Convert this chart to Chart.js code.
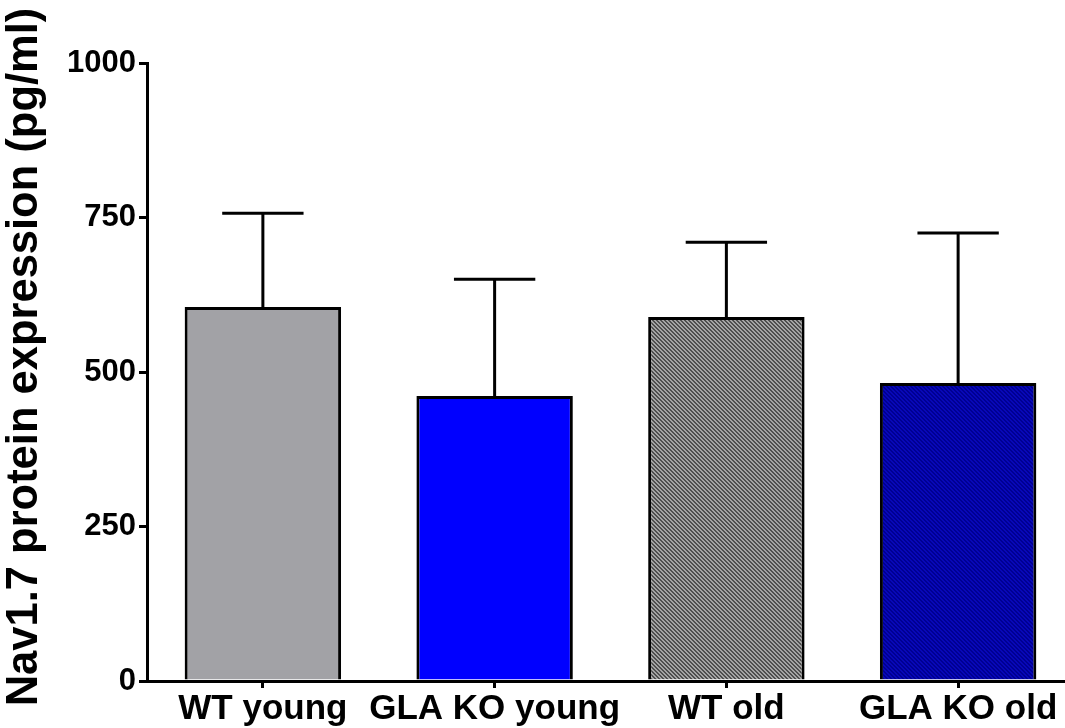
<!DOCTYPE html>
<html>
<head>
<meta charset="utf-8">
<script src="https://cdn.jsdelivr.net/npm/chart.js@4"></script>
<style>
  html, body { margin: 0; padding: 0; overflow: hidden; background: #fff; }
  #wrap { width: 1080px; height: 728px; }
</style>
</head>
<body>
<div id="wrap"><canvas id="chart"></canvas></div>
<script>
const categories = ['WT young', 'GLA KO young', 'WT old', 'GLA KO old'];
const means = [605, 461, 589, 482];
const errTops = [757, 650, 710, 725];
const yTicks = [0, 250, 500, 750, 1000];
const yTitle = 'Nav1.7 protein expression (pg/ml)';

// diagonal hatch tile
function hatch(dark, light) {
  const c = document.createElement('canvas');
  c.width = 4; c.height = 4;
  const g = c.getContext('2d');
  for (let x = 0; x < 4; x++) {
    for (let y = 0; y < 4; y++) {
      g.fillStyle = (((x - y) % 4) + 4) % 4 < 2 ? dark : light;
      g.fillRect(x, y, 1, 1);
    }
  }
  return g.createPattern(c, 'repeat');
}

const ctx = document.getElementById('chart').getContext('2d');

const fills = [
  '#a2a2a6',
  '#0000ff',
  hatch('#4e4e4e', '#a4a4a4'),
  hatch('#000092', '#0808b8')
];

const errorBars = {
  id: 'errorBars',
  afterDatasetsDraw(chart) {
    const meta = chart.getDatasetMeta(0);
    const y = chart.scales.y;
    const c = chart.ctx;
    c.save();
    c.strokeStyle = '#000';
    c.lineWidth = 3;
    meta.data.forEach((bar, i) => {
      const top = y.getPixelForValue(errTops[i]);
      const half = bar.width * 0.26;
      c.beginPath();
      c.moveTo(bar.x, bar.y);
      c.lineTo(bar.x, top);
      c.moveTo(bar.x - half, top);
      c.lineTo(bar.x + half, top);
      c.stroke();
    });
    c.restore();
  }
};

// y title, placed a little above the plot centre like the original
const sideTitle = {
  id: 'sideTitle',
  afterDraw(chart) {
    const a = chart.chartArea;
    const c = chart.ctx;
    c.save();
    c.translate(25, (a.top + a.bottom) / 2 - 15);
    c.rotate(-Math.PI / 2);
    c.font = 'bold 43.5px "Liberation Sans", Arial';
    c.fillStyle = '#000';
    c.textAlign = 'center';
    c.textBaseline = 'middle';
    c.fillText(yTitle, 0, 0);
    c.restore();
  }
};

new Chart(ctx, {
  type: 'bar',
  data: {
    labels: categories,
    datasets: [{
      data: means,
      backgroundColor: fills,
      borderColor: '#000',
      borderWidth: 3,
      barPercentage: 0.675,
      categoryPercentage: 1
    }]
  },
  options: {
    responsive: true,
    maintainAspectRatio: false,
    animation: false,
    layout: { padding: { top: 63, right: 6, left: 0, bottom: 0 } },
    plugins: { legend: { display: false }, tooltip: { enabled: false } },
    scales: {
      x: {
        z: 1,
        offset: true,
        border: { color: '#000', width: 3 },
        grid: { display: true, drawOnChartArea: false, drawTicks: true, tickLength: 7, color: '#000', lineWidth: 3, offset: false },
        ticks: {
          color: '#000', padding: 0, maxRotation: 0, minRotation: 0, autoSkip: false,
          font: { family: 'Liberation Sans, Arial', size: 35, weight: 'bold' }
        },
        afterFit(s) { s.height = 47; }
      },
      y: {
        z: 1,
        min: 0,
        max: 1000,
        afterBuildTicks(s) { s.ticks = yTicks.map(v => ({ value: v })); },
        border: { color: '#000', width: 3 },
        grid: { drawOnChartArea: false, drawTicks: true, tickLength: 8, color: '#000', lineWidth: 3 },
        ticks: {
          color: '#000', padding: 3,
          callback: v => String(v),
          font: { family: 'Liberation Sans, Arial', size: 31, weight: 'bold' }
        },
        afterFit(s) { s.width = 147; }
      }
    }
  },
  plugins: [errorBars, sideTitle]
});
</script>
</body>
</html>
